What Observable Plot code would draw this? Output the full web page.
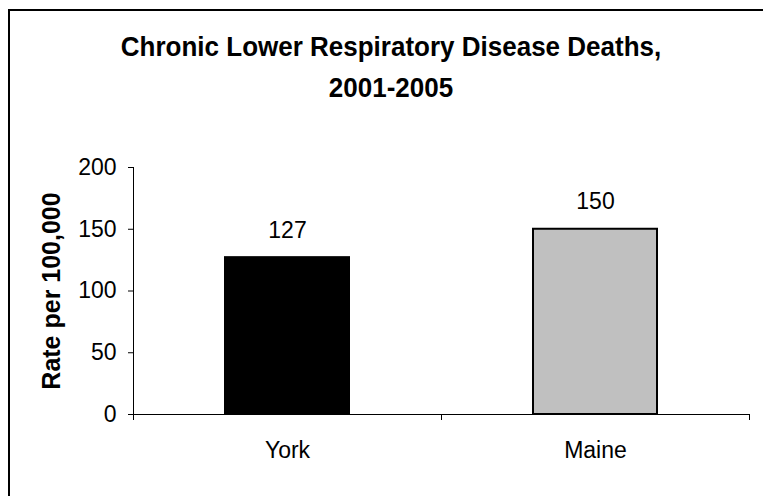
<!DOCTYPE html>
<html><head><meta charset="utf-8">
<script src="https://cdn.jsdelivr.net/npm/d3@7"></script>
<script src="https://cdn.jsdelivr.net/npm/@observablehq/plot@0.6"></script>
<style>
html,body{margin:0;padding:0;background:#fff;}
#wrap{position:relative;width:763px;height:496px;overflow:hidden;background:#fff;font-family:"Liberation Sans",Arial,sans-serif;color:#000;}
#frame{position:absolute;left:8px;top:9px;width:800px;height:600px;border:2px solid #000;box-sizing:border-box;}
#chart{position:absolute;left:0;top:0;}
#title{position:absolute;left:0;width:782px;top:26px;text-align:center;font-weight:bold;font-size:26px;line-height:38px;color:#000;transform:scaleY(1.08);transform-origin:center top;}
</style></head>
<body>
<div id="wrap"><div id="frame"></div><div id="chart"></div><div id="title">Chronic Lower Respiratory Disease Deaths,<br>2001-2005</div></div>
<script>
const categories = ["York", "Maine"];
const values = [127, 150];
const fills = ["#000000", "#c0c0c0"];
const valueLabels = ["127", "150"];
const yTicks = [0, 50, 100, 150, 200];
const yLabel = "Rate per 100,000";

const data = categories.map((c, i) => ({category: c, value: values[i], fill: fills[i], label: valueLabels[i]}));
const W = 763, H = 496, mL = 133, mR = 14, mT = 167, mB = 82;
const half = (W - mL - mR) / categories.length / 2;
const barW = 124;
const inset = half - barW / 2;

const chart = Plot.plot({
  width: W, height: H,
  marginLeft: mL, marginRight: mR, marginTop: mT, marginBottom: mB,
  style: {fontFamily: "'Liberation Sans', Arial, sans-serif", color: "#000", background: "transparent", overflow: "visible"},
  x: {domain: categories, padding: 0, axis: null},
  y: {domain: [yTicks[0], yTicks[yTicks.length - 1]], axis: null},
  marks: [
    Plot.barY(data, {x: "category", y: "value", fill: "fill", stroke: "#000", strokeWidth: 2, insetLeft: inset, insetRight: inset}),
    Plot.ruleY([0], {stroke: "#000", strokeWidth: 1}),
    Plot.ruleX([categories[0]], {x: d => d, dx: -half, y1: yTicks[0], y2: yTicks[yTicks.length - 1], stroke: "#000"}),
    Plot.axisY(yTicks, {tickSize: 5, tickPadding: 12, stroke: "#000", fill: "#000", fontSize: 23, label: null}),
    Plot.axisX(categories, {tickSize: 6, fill: "none", stroke: "#000", dx: -half, label: null}),
    Plot.axisX([categories[categories.length - 1]], {tickSize: 6, fill: "none", stroke: "#000", dx: half, label: null}),
    Plot.axisX(categories, {tickSize: 0, tickPadding: 27, fill: "#000", fontSize: 23, label: null}),
    Plot.text(data, {x: "category", y: "value", text: "label", dy: -20, lineAnchor: "bottom", fontSize: 23, fill: "#000"}),
    Plot.text([yLabel], {frameAnchor: "left", rotate: -90, dx: -82, fontWeight: "bold", fontSize: 25, textAnchor: "middle", lineAnchor: "middle", fill: "#000"})
  ]
});
document.getElementById("chart").appendChild(chart);
</script>
</body></html>
